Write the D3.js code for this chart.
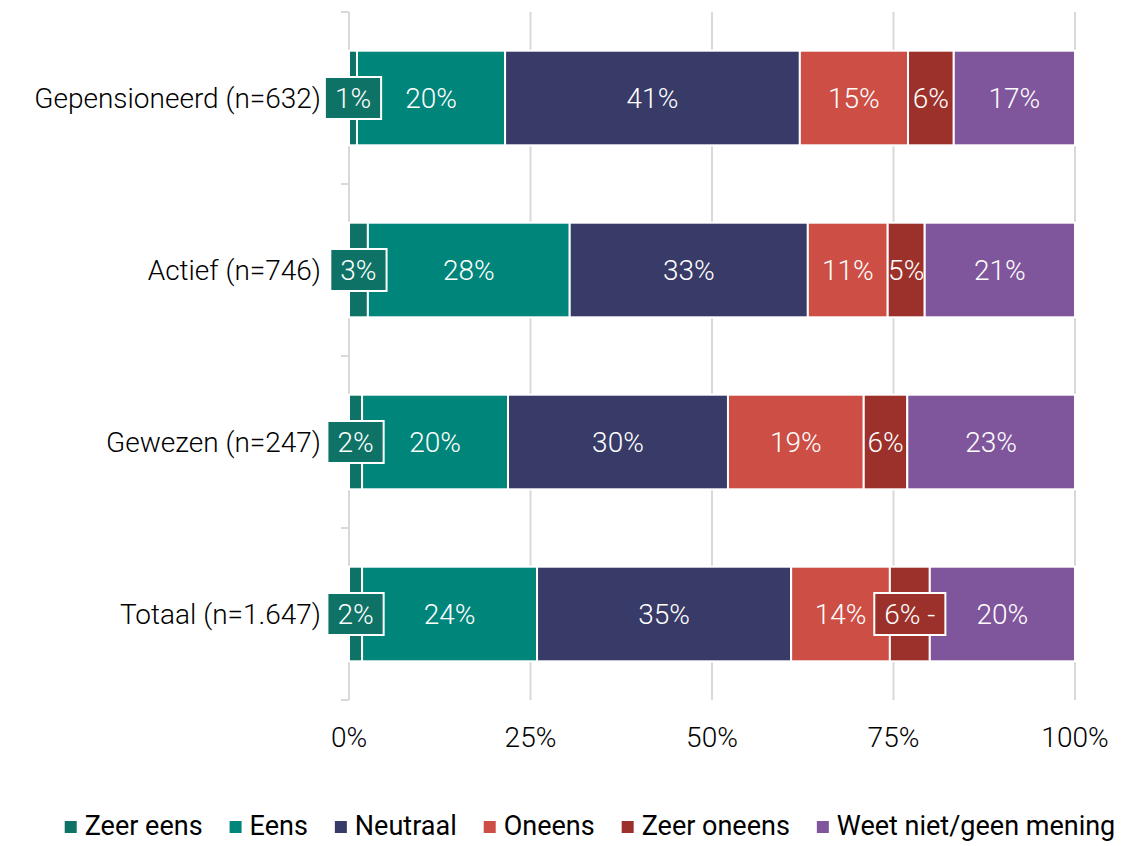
<!DOCTYPE html>
<html lang="nl">
<head>
  <meta charset="UTF-8">
  <title>Stellingen per groep</title>
  <script src="https://d3js.org/d3.v7.min.js"></script>
  <style>
    * {
      margin: 0;
      padding: 0;
      box-sizing: border-box;
    }

    body {
      background: #fff;
      font-family: Roboto, 'Noto Sans', sans-serif;
      overflow: hidden;
    }

    svg text {
      font-family: Roboto, 'Noto Sans', sans-serif;
      font-weight: 300;
    }

    svg .legend text {
      font-weight: 400;
    }
  </style>
</head>
<body>
  <svg id="chart"></svg>

  <script>
    const categories = ["Gepensioneerd (n=632)", "Actief (n=746)", "Gewezen (n=247)", "Totaal (n=1.647)"];
    const series = ["Zeer eens", "Eens", "Neutraal", "Oneens", "Zeer oneens", "Weet niet/geen mening"];

    // percentages per categorie, in volgorde van categories
    const zeerEens   = [1.1, 2.6, 1.8, 1.8];
    const eens       = [20.4, 27.8, 20.1, 24.1];
    const neutraal   = [40.6, 32.8, 30.3, 35.0];
    const oneens     = [14.9, 11.0, 18.7, 13.6];
    const zeerOneens = [6.3, 5.1, 6.0, 5.5];
    const weetNiet   = [16.7, 20.7, 23.1, 20.0];

    const xTicks = [0, 25, 50, 75, 100];

    // labels die in een kader naast/over het segment staan
    const boxedLabels = [
      ["Gepensioneerd (n=632)", "Zeer eens"],
      ["Actief (n=746)", "Zeer eens"],
      ["Gewezen (n=247)", "Zeer eens"],
      ["Totaal (n=1.647)", "Zeer eens"],
      ["Totaal (n=1.647)", "Zeer oneens"]
    ];
    const labelSuffix = [["Totaal (n=1.647)", "Zeer oneens", " -"]];

    const colors = ["#0e7266", "#00857a", "#383a67", "#cc4e44", "#9c312b", "#7f559c"];

    const width = 1146;
    const height = 846;
    const margin = { top: 12, right: 71, bottom: 146, left: 349 };
    const fontSize = 28;

    const values = [zeerEens, eens, neutraal, oneens, zeerOneens, weetNiet];
    const rows = categories.map((c, i) => {
      const row = { category: c };
      series.forEach((s, j) => row[s] = values[j][i]);
      return row;
    });

    const stacked = d3.stack().keys(series)(rows);

    const svg = d3.select("#chart")
      .attr("width", width)
      .attr("height", height);

    const x = d3.scaleLinear()
      .domain([0, 100])
      .range([margin.left, width - margin.right]);

    const y = d3.scaleBand()
      .domain(categories)
      .range([margin.top, height - margin.bottom])
      .paddingInner(0.45)
      .paddingOuter(0.225);

    const color = d3.scaleOrdinal(series, colors);

    // rasterlijnen
    svg.append("g")
      .selectAll("line")
      .data(xTicks)
      .join("line")
      .attr("x1", d => x(d))
      .attr("x2", d => x(d))
      .attr("y1", margin.top)
      .attr("y2", height - margin.bottom)
      .attr("stroke", "#d9d9d9")
      .attr("stroke-width", 2);

    // ticks op de categorie-as (grenzen tussen de banden)
    const bounds = d3.range(categories.length + 1).map(i => margin.top + i * y.step());
    svg.append("g")
      .selectAll("line")
      .data(bounds)
      .join("line")
      .attr("x1", x(0) - 8)
      .attr("x2", x(0))
      .attr("y1", d => d)
      .attr("y2", d => d)
      .attr("stroke", "#d9d9d9")
      .attr("stroke-width", 2);

    // balken
    const layers = svg.append("g")
      .selectAll("g")
      .data(stacked)
      .join("g")
      .attr("fill", d => color(d.key));

    layers.selectAll("rect")
      .data(d => d)
      .join("rect")
      .attr("x", d => x(d[0]))
      .attr("y", d => y(d.data.category))
      .attr("width", d => x(d[1]) - x(d[0]))
      .attr("height", y.bandwidth())
      .attr("stroke", "#fff")
      .attr("stroke-width", 2);

    // categorie-labels
    svg.append("g")
      .selectAll("text")
      .data(categories)
      .join("text")
      .attr("x", x(0) - 28)
      .attr("y", d => y(d) + y.bandwidth() / 2)
      .attr("text-anchor", "end")
      .attr("dominant-baseline", "central")
      .attr("font-size", fontSize)
      .attr("fill", "#000")
      .text(d => d);

    // x-as labels
    svg.append("g")
      .selectAll("text")
      .data(xTicks)
      .join("text")
      .attr("x", d => x(d))
      .attr("y", 737)
      .attr("text-anchor", "middle")
      .attr("dominant-baseline", "central")
      .attr("font-size", fontSize)
      .attr("fill", "#000")
      .text(d => d + "%");

    // waardelabels
    const labels = [];
    stacked.forEach(layer => {
      layer.forEach(d => {
        const cat = d.data.category;
        const suffix = labelSuffix.find(s => s[0] === cat && s[1] === layer.key);
        labels.push({
          key: layer.key,
          cx: (x(d[0]) + x(d[1])) / 2,
          cy: y(cat) + y.bandwidth() / 2,
          text: Math.round(d[1] - d[0]) + "%" + (suffix ? suffix[2] : ""),
          boxed: boxedLabels.some(b => b[0] === cat && b[1] === layer.key)
        });
      });
    });

    const labelG = svg.append("g")
      .selectAll("g")
      .data(labels)
      .join("g")
      .attr("transform", d => `translate(${d.cx},${d.cy})`);

    labelG.append("text")
      .attr("text-anchor", "middle")
      .attr("dominant-baseline", "central")
      .attr("font-size", fontSize)
      .attr("fill", "#fff")
      .text(d => d.text);

    labelG.filter(d => d.boxed).each(function(d) {
      const g = d3.select(this);
      const w = g.select("text").node().getComputedTextLength() + 20;
      g.insert("rect", "text")
        .attr("x", -w / 2)
        .attr("y", -21)
        .attr("width", w)
        .attr("height", 42)
        .attr("fill", color(d.key))
        .attr("stroke", "#fff")
        .attr("stroke-width", 2);
    });

    // legenda
    const legend = svg.append("g").attr("class", "legend");
    const items = legend.selectAll("g")
      .data(series)
      .join("g");

    items.append("rect")
      .attr("width", 12)
      .attr("height", 12)
      .attr("y", -5)
      .attr("fill", d => color(d));

    items.append("text")
      .attr("x", 20)
      .attr("dominant-baseline", "central")
      .attr("font-size", 27)
      .attr("fill", "#000")
      .text(d => d);

    let offset = 0;
    items.each(function() {
      const g = d3.select(this);
      g.attr("transform", `translate(${offset},0)`);
      offset += 20 + g.select("text").node().getComputedTextLength() + 27;
    });
    const legendWidth = offset - 27;
    legend.attr("transform", `translate(${590 - legendWidth / 2},826)`);
  </script>
</body>
</html>
